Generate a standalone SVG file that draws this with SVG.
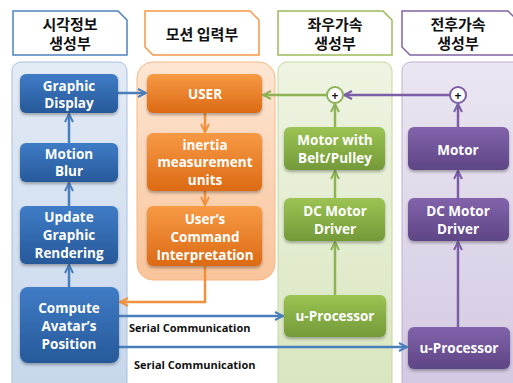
<svg xmlns="http://www.w3.org/2000/svg" width="513" height="383" viewBox="0 0 513 383">
<defs>
<linearGradient id="gB" x1="0" y1="0" x2="0" y2="1"><stop offset="0" stop-color="#3f7cc6"/><stop offset="1" stop-color="#27599a"/></linearGradient>
<linearGradient id="gO" x1="0" y1="0" x2="0" y2="1"><stop offset="0" stop-color="#f79a45"/><stop offset="1" stop-color="#dc6a14"/></linearGradient>
<linearGradient id="gG" x1="0" y1="0" x2="0" y2="1"><stop offset="0" stop-color="#9cc353"/><stop offset="1" stop-color="#739a38"/></linearGradient>
<linearGradient id="gP" x1="0" y1="0" x2="0" y2="1"><stop offset="0" stop-color="#8263ab"/><stop offset="1" stop-color="#5e4585"/></linearGradient>
<linearGradient id="pB" x1="0" y1="0" x2="0" y2="1"><stop offset="0" stop-color="#e3ebf5"/><stop offset="1" stop-color="#c6d7ec"/></linearGradient>
<linearGradient id="pO" x1="0" y1="0" x2="0" y2="1"><stop offset="0" stop-color="#fde6d3"/><stop offset="1" stop-color="#f9c49a"/></linearGradient>
<linearGradient id="pG" x1="0" y1="0" x2="0" y2="1"><stop offset="0" stop-color="#eef4e2"/><stop offset="1" stop-color="#d9e6bf"/></linearGradient>
<linearGradient id="pP" x1="0" y1="0" x2="0" y2="1"><stop offset="0" stop-color="#ebe6f1"/><stop offset="1" stop-color="#d3c9e2"/></linearGradient>
<filter id="sh" x="-10%" y="-10%" width="130%" height="140%"><feDropShadow dx="0" dy="2" stdDeviation="1.5" flood-color="#000" flood-opacity="0.3"/></filter>
<marker id="aB" viewBox="0 0 10 10" refX="9" refY="5" markerWidth="10" markerHeight="10" markerUnits="userSpaceOnUse" orient="auto"><path d="M1,1 L9,5 L1,9" fill="none" stroke="#4a7ebb" stroke-width="2"/></marker>
<marker id="aO" viewBox="0 0 10 10" refX="9" refY="5" markerWidth="10" markerHeight="10" markerUnits="userSpaceOnUse" orient="auto"><path d="M1,1 L9,5 L1,9" fill="none" stroke="#f0913e" stroke-width="2"/></marker>
<marker id="aG" viewBox="0 0 10 10" refX="9" refY="5" markerWidth="10" markerHeight="10" markerUnits="userSpaceOnUse" orient="auto"><path d="M1,1 L9,5 L1,9" fill="none" stroke="#8db356" stroke-width="2"/></marker>
<marker id="aP" viewBox="0 0 10 10" refX="9" refY="5" markerWidth="10" markerHeight="10" markerUnits="userSpaceOnUse" orient="auto"><path d="M1,1 L9,5 L1,9" fill="none" stroke="#7a5ea6" stroke-width="2"/></marker>
</defs>
<style>
.hd{fill:#fff;stroke-width:1.5}
.ht{font-family:"Noto Sans CJK KR",sans-serif;font-weight:bold;font-size:15px;fill:#111;text-anchor:middle}
.nt{font-family:"Open Sans","Noto Sans",sans-serif;font-weight:bold;font-size:13.5px;fill:#fff;text-anchor:middle}
.lb{font-family:"Open Sans","Noto Sans",sans-serif;font-weight:bold;font-size:11px;fill:#111}
.cB{stroke:#4a7ebb;stroke-width:2.5;fill:none}
.cO{stroke:#f0913e;stroke-width:2.5;fill:none}
.cG{stroke:#8db356;stroke-width:2.5;fill:none}
.cP{stroke:#7a5ea6;stroke-width:2.5;fill:none}
</style>
<rect width="513" height="383" fill="#fff"/>
<g id="panels">
<rect x="12" y="62" width="115" height="330" rx="9" fill="url(#pB)" stroke="#a9c1e0" stroke-width="1"/>
<rect x="137" y="62" width="138" height="218" rx="16" fill="url(#pO)" stroke="#f6b784" stroke-width="1"/>
<rect x="278" y="62" width="114" height="330" rx="9" fill="url(#pG)" stroke="#c5d8a2" stroke-width="1"/>
<rect x="402" y="62" width="120" height="330" rx="9" fill="url(#pP)" stroke="#bfb0d5" stroke-width="1"/>
</g>
<g id="hdr1"><path class="hd" d="M13,11 H118 L127,20 V55 H13 Z" stroke="#4f81bd"/><text class="ht" x="70" y="30">시각정보</text><text class="ht" x="70" y="49">생성부</text></g>
<g id="hdr2"><path class="hd" d="M145,11 H250 L259,20 V55 H153 L145,47 Z" stroke="#f79646"/><text class="ht" x="202" y="40">모션 입력부</text></g>
<g id="hdr3"><path class="hd" d="M278,11 H383 L392,20 V55 H278 Z" stroke="#9bbb59"/><text class="ht" x="335" y="30">좌우가속</text><text class="ht" x="335" y="49">생성부</text></g>
<g id="hdr4"><path class="hd" d="M402,11 H508 L517,20 V55 H410 L402,47 Z" stroke="#8064a2"/><text class="ht" x="458" y="30">전후가속</text><text class="ht" x="458" y="49">생성부</text></g>
<g id="connectors">
<line class="cB" x1="118" y1="93" x2="146" y2="93" marker-end="url(#aB)"/>
<line class="cB" x1="69" y1="143" x2="69" y2="114" marker-end="url(#aB)"/>
<line class="cB" x1="69" y1="206" x2="69" y2="183" marker-end="url(#aB)"/>
<line class="cB" x1="69" y1="287" x2="69" y2="265" marker-end="url(#aB)"/>
<line class="cO" x1="205" y1="113" x2="205" y2="132" marker-end="url(#aO)"/>
<line class="cO" x1="205" y1="191" x2="205" y2="205" marker-end="url(#aO)"/>
<polyline class="cO" points="205,266 205,302 120,302" marker-end="url(#aO)"/>
<line class="cG" x1="327" y1="95" x2="263" y2="95" marker-end="url(#aG)"/>
<line class="cP" x1="450" y1="95" x2="344" y2="95" marker-end="url(#aP)"/>
<line class="cG" x1="335" y1="127" x2="335" y2="104" marker-end="url(#aG)"/>
<line class="cG" x1="335" y1="198" x2="335" y2="171" marker-end="url(#aG)"/>
<line class="cG" x1="335" y1="295" x2="335" y2="242" marker-end="url(#aG)"/>
<line class="cP" x1="458" y1="127" x2="458" y2="104" marker-end="url(#aP)"/>
<line class="cP" x1="458" y1="198" x2="458" y2="171" marker-end="url(#aP)"/>
<line class="cP" x1="458" y1="327" x2="458" y2="242" marker-end="url(#aP)"/>
<line class="cB" x1="119" y1="316" x2="283" y2="316" marker-end="url(#aB)"/>
<line class="cB" x1="119" y1="347" x2="407" y2="347" marker-end="url(#aB)"/>
<text class="lb" x="129" y="332">Serial Communication</text>
<text class="lb" x="134" y="369">Serial Communication</text>
</g>
<g id="graphic-display"><rect x="20" y="74" width="98" height="39" rx="6" fill="url(#gB)" filter="url(#sh)"/><text class="nt" x="69" y="91">Graphic</text><text class="nt" x="69" y="108">Display</text></g>
<g id="motion-blur"><rect x="20" y="143" width="98" height="39" rx="6" fill="url(#gB)" filter="url(#sh)"/><text class="nt" x="69" y="159">Motion</text><text class="nt" x="69" y="176">Blur</text></g>
<g id="update-rendering"><rect x="20" y="206" width="98" height="58" rx="6" fill="url(#gB)" filter="url(#sh)"/><text class="nt" x="69" y="222">Update</text><text class="nt" x="69" y="240">Graphic</text><text class="nt" x="69" y="258">Rendering</text></g>
<g id="compute-avatar"><rect x="20" y="287" width="99" height="76" rx="8" fill="url(#gB)" filter="url(#sh)"/><text class="nt" x="69" y="313">Compute</text><text class="nt" x="69" y="331">Avatar’s</text><text class="nt" x="69" y="349">Position</text></g>
<g id="user"><rect x="147" y="74" width="115" height="39" rx="6" fill="url(#gO)" filter="url(#sh)"/><text class="nt" x="205" y="99">USER</text></g>
<g id="imu"><rect x="147" y="133" width="115" height="58" rx="6" fill="url(#gO)" filter="url(#sh)"/><text class="nt" x="205" y="150">inertia</text><text class="nt" x="205" y="167">measurement</text><text class="nt" x="205" y="185">units</text></g>
<g id="command"><rect x="147" y="206" width="115" height="60" rx="6" fill="url(#gO)" filter="url(#sh)"/><text class="nt" x="205" y="224">User’s</text><text class="nt" x="205" y="242">Command</text><text class="nt" x="205" y="260">Interpretation</text></g>
<g id="sum-green"><circle cx="335" cy="95" r="8" fill="#fff" stroke="#8db356" stroke-width="2"/><text x="335" y="99.5" text-anchor="middle" font-family="Open Sans,sans-serif" font-weight="bold" font-size="12" fill="#111">+</text></g>
<g id="sum-purple"><circle cx="458" cy="95" r="8" fill="#fff" stroke="#7a5ea6" stroke-width="2"/><text x="458" y="99.5" text-anchor="middle" font-family="Open Sans,sans-serif" font-weight="bold" font-size="12" fill="#111">+</text></g>
<g id="motor-belt"><rect x="284" y="127" width="101" height="43" rx="6" fill="url(#gG)" filter="url(#sh)"/><text class="nt" x="335" y="145">Motor with</text><text class="nt" x="335" y="163">Belt/Pulley</text></g>
<g id="dc-driver-g"><rect x="284" y="198" width="101" height="43" rx="6" fill="url(#gG)" filter="url(#sh)"/><text class="nt" x="335" y="216">DC Motor</text><text class="nt" x="335" y="234">Driver</text></g>
<g id="uproc-g"><rect x="284" y="295" width="102" height="42" rx="6" fill="url(#gG)" filter="url(#sh)"/><text class="nt" x="335" y="321">u-Processor</text></g>
<g id="motor-p"><rect x="408" y="127" width="101" height="43" rx="6" fill="url(#gP)" filter="url(#sh)"/><text class="nt" x="458" y="155">Motor</text></g>
<g id="dc-driver-p"><rect x="408" y="198" width="101" height="43" rx="6" fill="url(#gP)" filter="url(#sh)"/><text class="nt" x="458" y="216">DC Motor</text><text class="nt" x="458" y="234">Driver</text></g>
<g id="uproc-p"><rect x="408" y="327" width="102" height="42" rx="6" fill="url(#gP)" filter="url(#sh)"/><text class="nt" x="459" y="353">u-Processor</text></g>
</svg>
